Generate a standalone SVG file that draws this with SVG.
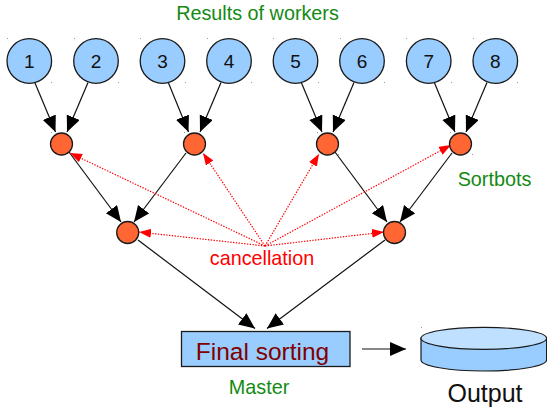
<svg xmlns="http://www.w3.org/2000/svg" width="547" height="407" viewBox="0 0 547 407">
<style>
text{font-family:"Liberation Sans",Arial,sans-serif;text-anchor:middle}
.w{fill:#99ccff;stroke:#1a1a1a;stroke-width:1.3}
.s{fill:#ff6633;stroke:#1a1a1a;stroke-width:1.3}
.n{font-size:19px;fill:#111}
.g{font-size:19.800px;fill:#138a13}
.a{fill:none;stroke:#111;stroke-width:1.2;marker-end:url(#big)}
.c{fill:none;stroke:#ff0000;stroke-width:1.2;stroke-dasharray:1.4 1.4;marker-end:url(#red)}
</style>
<defs>
<marker id="big" markerUnits="userSpaceOnUse" markerWidth="17" markerHeight="15" refX="16" refY="7" orient="auto"><path d="M0 0L16 7L0 14z" fill="#000"/></marker>
<marker id="red" markerUnits="userSpaceOnUse" markerWidth="13" markerHeight="10" refX="12" refY="4.500" orient="auto"><path d="M0 0L12 4.500L0 9z" fill="#ff0000"/></marker>
</defs>
<path id="ticks" fill="#999" d="M7 38h1v1h-1zM74 38h1v1h-1zM140 38h1v1h-1zM207 38h1v1h-1zM273 38h1v1h-1zM340 38h1v1h-1zM406 38h1v1h-1zM473 38h1v1h-1zM51 82h1v1h-1zM118 82h1v1h-1zM185 82h1v1h-1zM251 82h1v1h-1zM318 82h1v1h-1zM384 82h1v1h-1zM451 82h1v1h-1zM517 82h1v1h-1zM51 132h1v1h-1zM184 132h1v1h-1zM317 132h1v1h-1zM450 132h1v1h-1zM472 154h1v1h-1zM338 154h1v1h-1zM421 327h1v1h-1z"/>
<g id="connectors">
<path class="a" d="M35 83L55.500 132"/>
<path class="a" d="M88 82.500L67 132"/>
<path class="a" d="M168.500 83L188.500 132"/>
<path class="a" d="M221 82.500L200 132"/>
<path class="a" d="M301.500 83L322 132"/>
<path class="a" d="M354 82.500L333 132"/>
<path class="a" d="M434.500 83L455 132"/>
<path class="a" d="M487 82.500L466 132"/>
<path class="a" d="M69 152L121 222"/>
<path class="a" d="M186 153L134 222"/>
<path class="a" d="M335 152L387 222"/>
<path class="a" d="M452 153L400 222"/>
<path class="a" d="M138 240L255 328.500"/>
<path class="a" d="M385 240L267 328.500"/>
<path class="a" d="M362 349L406 349"/>
<path class="c" d="M265 246L70 153"/>
<path class="c" d="M265 246L203 153"/>
<path class="c" d="M265 246L319 154"/>
<path class="c" d="M265 246L451 145"/>
<path class="c" d="M265 246L139 232"/>
<path class="c" d="M265 246L384 232"/>
</g>
<g id="w1"><circle class="w" cx="29.300" cy="61" r="22.300"/><text class="n" x="29.300" y="68">1</text></g>
<g id="w2"><circle class="w" cx="96" cy="61" r="22.300"/><text class="n" x="96" y="68">2</text></g>
<g id="w3"><circle class="w" cx="162.500" cy="61" r="22.300"/><text class="n" x="162.500" y="68">3</text></g>
<g id="w4"><circle class="w" cx="229" cy="61" r="22.300"/><text class="n" x="229" y="68">4</text></g>
<g id="w5"><circle class="w" cx="295.500" cy="61" r="22.300"/><text class="n" x="295.500" y="68">5</text></g>
<g id="w6"><circle class="w" cx="362" cy="61" r="22.300"/><text class="n" x="362" y="68">6</text></g>
<g id="w7"><circle class="w" cx="428.700" cy="61" r="22.300"/><text class="n" x="428.700" y="68">7</text></g>
<g id="w8"><circle class="w" cx="495.300" cy="61" r="22.300"/><text class="n" x="495.300" y="68">8</text></g>
<g id="s1"><circle class="s" cx="61.500" cy="144" r="11"/></g>
<g id="s2"><circle class="s" cx="194.500" cy="144" r="11"/></g>
<g id="s3"><circle class="s" cx="327.500" cy="144" r="11"/></g>
<g id="s4"><circle class="s" cx="460.500" cy="144" r="11"/></g>
<g id="s5"><circle class="s" cx="127.700" cy="232.500" r="11"/></g>
<g id="s6"><circle class="s" cx="394.500" cy="232.500" r="11"/></g>
<g id="master"><rect x="181.500" y="331.500" width="168.500" height="35" fill="#99ccff" stroke="#1a1a1a" stroke-width="1.300"/><text x="262.500" y="360" font-size="24.500" fill="#800000">Final sorting</text></g>
<g id="output">
<path d="M421 338V360A62.800 11 0 0 0 546.600 360V338z" fill="#99ccff" stroke="#1a1a1a" stroke-width="1.200"/>
<ellipse cx="483.800" cy="338.300" rx="62.800" ry="11" fill="#c0e0ff" stroke="#1a1a1a" stroke-width="1.200"/>
<text x="485" y="402" font-size="25" fill="#111">Output</text>
</g>
<text class="g" x="257.500" y="20">Results of workers</text>
<text class="g" x="494.500" y="186">Sortbots</text>
<text class="g" x="259" y="394">Master</text>
<text x="262" y="265" font-size="19.800" fill="#ff0000">cancellation</text>
</svg>
